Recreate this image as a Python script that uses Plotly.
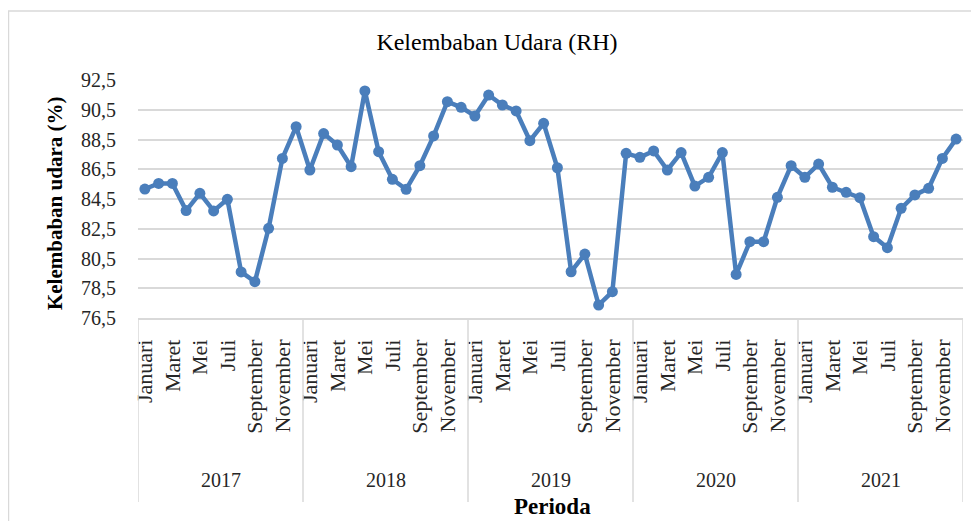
import plotly.graph_objects as go

years = ["2017", "2018", "2019", "2020", "2021"]
months = ["Januari", "Februari", "Maret", "April", "Mei", "Juni", "Juli",
          "Agustus", "September", "Oktober", "November", "Desember"]
rh_2017 = [85.17, 85.55, 85.55, 83.72, 84.88, 83.70, 84.48, 79.60, 78.94, 82.53, 87.23, 89.36]
rh_2018 = [86.45, 88.90, 88.13, 86.67, 91.76, 87.68, 85.82, 85.15, 86.74, 88.74, 91.04, 90.66]
rh_2019 = [90.08, 91.49, 90.82, 90.42, 88.42, 89.59, 86.60, 79.61, 80.80, 77.37, 78.27, 87.57]
rh_2020 = [87.30, 87.73, 86.45, 87.62, 85.37, 85.96, 87.62, 79.43, 81.63, 81.63, 84.61, 86.74]
rh_2021 = [85.96, 86.85, 85.29, 84.95, 84.59, 81.97, 81.23, 83.87, 84.77, 85.22, 87.23, 88.53]
y_ticks = [76.5, 78.5, 80.5, 82.5, 84.5, 86.5, 88.5, 90.5, 92.5]
y_ticktext = ["76,5", "78,5", "80,5", "82,5", "84,5", "86,5", "88,5", "90,5", "92,5"]

series = rh_2017 + rh_2018 + rh_2019 + rh_2020 + rh_2021
n = len(series)
x_idx = list(range(n))
hover = [f"{months[i % 12]} {years[i // 12]}" for i in x_idx]

FONT = "Liberation Serif, Times New Roman, serif"
BLUE = "#4a7ebb"
GRID = "#d9d9d9"

# page is shown with an 8px body margin, so the figure is 8px smaller
W, H = 971, 513
L, R, T, B = 130, 16, 72, 203

fig = go.Figure()
fig.add_trace(go.Scatter(
    x=x_idx, y=series, mode="lines+markers",
    line=dict(color=BLUE, width=4.5),
    marker=dict(color=BLUE, size=11),
    text=hover, hovertemplate="%{text}: %{y}<extra></extra>",
    showlegend=False,
))

tickvals = [i for i in x_idx if i % 2 == 0]
ticktext = [months[i % 12] for i in tickvals]

shapes = []
for k in range(len(years) + 1):
    shapes.append(dict(type="line", xref="x", yref="paper",
                       x0=-0.5 + 12 * k, x1=-0.5 + 12 * k, y0=0, y1=-0.773,
                       line=dict(color=GRID, width=1.5)))
# outer chart border
shapes.append(dict(type="rect", xref="paper", yref="paper",
                   x0=-0.157, x1=1.05, y0=-0.95, y1=1.29,
                   line=dict(color=GRID, width=1.5), fillcolor="rgba(0,0,0,0)", layer="below"))

annotations = []
for k, yr in enumerate(years):
    annotations.append(dict(text=yr, x=5.5 + 12 * k, xref="x", y=-0.68, yref="paper",
                            showarrow=False, yanchor="middle",
                            font=dict(family=FONT, size=20, color="#262626")))
annotations.append(dict(text="<b>Kelembaban udara (%)</b>", x=-0.1006, xref="paper",
                        y=0.483, yref="paper", textangle=-90, showarrow=False,
                        xanchor="center", yanchor="middle",
                        font=dict(family=FONT, size=21, color="#000000")))
annotations.append(dict(text="<b>Perioda</b>", x=0.502, xref="paper", y=-0.79, yref="paper",
                        showarrow=False, xanchor="center", yanchor="middle",
                        font=dict(family=FONT, size=23, color="#000000")))

fig.update_layout(
    width=W, height=H,
    margin=dict(l=L, r=R, t=T, b=B),
    paper_bgcolor="white", plot_bgcolor="white",
    title=dict(text="Kelembaban Udara (RH)", x=489 / W, xanchor="center",
               y=1 - 34 / H, yanchor="middle", yref="container",
               font=dict(family=FONT, size=24, color="#000000")),
    font=dict(family=FONT, size=20, color="#262626"),
    xaxis=dict(range=[-0.5, n - 0.5], tickvals=tickvals, ticktext=ticktext,
               tickangle=-90, showgrid=False, zeroline=False,
               showline=True, linecolor=GRID, linewidth=1.5,
               ticks="", ticklabelstandoff=11,
               tickfont=dict(family=FONT, size=22, color="#262626")),
    yaxis=dict(range=[76.5, 92.5], tickvals=y_ticks, ticktext=y_ticktext,
               showgrid=True, gridcolor=GRID, gridwidth=1.5, zeroline=False,
               showline=False, ticks="", ticklabelstandoff=21,
               tickfont=dict(family=FONT, size=20, color="#262626")),
    shapes=shapes, annotations=annotations,
)

fig.write_html("out.html")
